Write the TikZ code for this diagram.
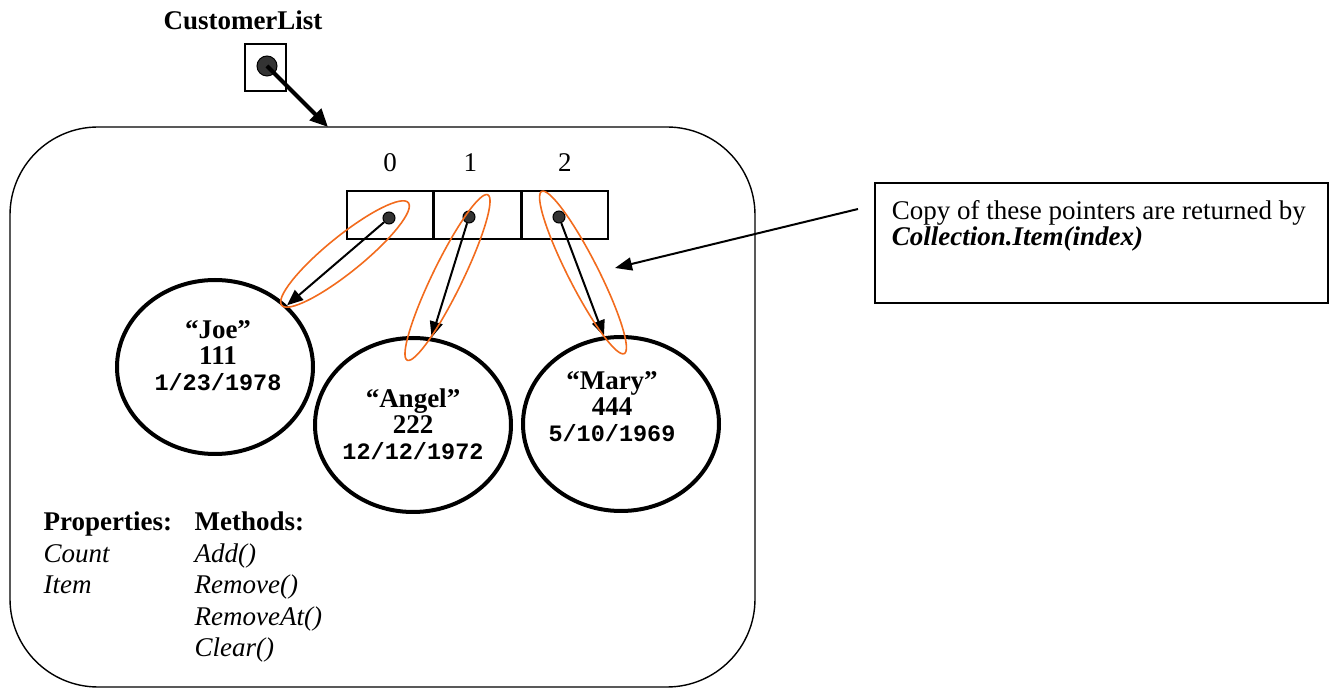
\documentclass[tikz,border=0pt]{standalone}
\usepackage{fontspec}
\setmainfont{Liberation Serif}
\setmonofont{Liberation Mono}
\usetikzlibrary{positioning, arrows.meta, shapes.geometric}
\definecolor{hiorange}{HTML}{F26B1D}
\definecolor{ptrgray}{HTML}{333333}
\newcommand{\recdate}{\fontsize{11.75}{13}\selectfont\ttfamily\bfseries}

\begin{document}
\begin{tikzpicture}[x=0.5pt, y=-0.5pt, line width=0.7pt,
    txt/.style={inner sep=0pt, font=\fontsize{13.5}{13}\selectfont},
    cellbox/.style={draw, minimum width=43pt, minimum height=24pt, inner sep=0pt},
    ptr/.style={circle, draw, fill=ptrgray, minimum size=6pt, inner sep=0pt, line width=0.5pt},
    rec/.style={ellipse, draw, line width=2pt, minimum width=98pt, minimum height=87pt, inner sep=0pt},
    rectxt/.style={txt, align=center, font=\fontsize{13.5}{13}\selectfont\bfseries},
    hilite/.style={ellipse, draw=hiorange, line width=0.8pt, inner sep=0pt},
    link/.style={-{Triangle[length=8pt,width=6.5pt]}, line width=1pt}]
    \useasboundingbox (0,0) rectangle (1335,689);

    % the collection object
    \node[draw, rounded corners=44pt, minimum width=372.5pt, minimum height=280pt, inner sep=0pt] (coll) at (382.5,407) {};

    % reference variable
    \node[txt, font=\fontsize{13.5}{13}\selectfont\bfseries] (listname) at (243,20) {CustomerList};
    \node[draw, minimum width=20.5pt, minimum height=23.5pt, inner sep=0pt] (listref) at (265.5,67.5) {};
    \node[ptr, minimum size=10pt] (listdot) at (267,66) {};
    \coordinate (listtip) at (328,127);
    \draw[line width=2pt, -{Triangle[length=9pt,width=8pt]}] (listdot.center) -- (listtip);

    % internal array
    \node[cellbox] (c0) at (390,215) {};
    \node[cellbox, right=0pt of c0] (c1) {};
    \node[cellbox, right=0pt of c1] (c2) {};
    \node[txt, above=9pt of c0] (i0) {0};
    \node[txt, above=9pt of c1, xshift=-3.5pt] (i1) {1};
    \node[txt, above=9pt of c2] (i2) {2};
    \node[ptr] (d0) at (389,218) {};
    \node[ptr] (d1) at (469,217) {};
    \node[ptr] (d2) at (559,217) {};

    % customer records
    \node[rec] (joe) at (215,367) {};
    \node[rec] (angel) at (413,425) {};
    \node[rec] (mary) at (621,424) {};
    \node[rectxt] (joetxt) at (218,356) {“Joe”\\111\\{\recdate 1/23/1978}};
    \node[rectxt] (angeltxt) at (413,424) {“Angel”\\222\\{\recdate 12/12/1972}};
    \node[rectxt] (marytxt) at (612,407) {“Mary”\\444\\{\recdate 5/10/1969}};

    \draw[link] (d0) -- (joe);
    \draw[link] (d1) -- (angel.78);
    \draw[link] (d2) -- (mary.101);

    % highlighted pointers
    \node[hilite, rotate=39, minimum width=81.5pt, minimum height=18pt] (ring0) at (345,254) {};
    \node[hilite, rotate=64, minimum width=92pt, minimum height=15pt] (ring1) at (447.5,277.5) {};
    \node[hilite, rotate=-63, minimum width=91pt, minimum height=15pt] (ring2) at (583,272.5) {};

    % members
    \node[txt, anchor=north west, align=left, font=\fontsize{13.5}{15.8}\selectfont] (props) at (43,511)
      {\textbf{Properties:}\\\textit{Count}\\\textit{Item}};
    \node[txt, anchor=north west, align=left, font=\fontsize{13.5}{15.8}\selectfont] (meths) at (194,511)
      {\textbf{Methods:}\\\textit{Add()}\\\textit{Remove()}\\\textit{RemoveAt()}\\\textit{Clear()}};

    % callout
    \node[draw, line width=0.8pt, minimum width=226.5pt, minimum height=60pt, inner sep=0pt] (note) at (1101.5,243) {};
    \node[txt, anchor=north west, align=left] (notetxt) at ([shift={(17,17.5)}]note.north west)
      {Copy of these pointers are returned by\\\textbf{\textit{Collection.Item(index)}}};
    \coordinate (callfrom) at (858,209);
    \coordinate (callto) at (615,268);
    \draw[line width=1pt, -{Triangle[length=8.5pt,width=6.5pt]}] (callfrom) -- (callto);
  \end{tikzpicture}
\end{document}
